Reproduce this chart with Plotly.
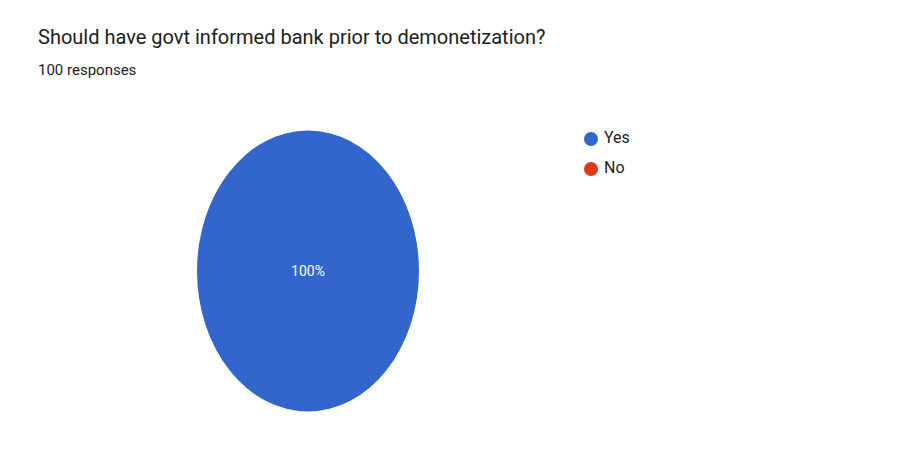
import plotly.graph_objects as go

title = "Should have govt informed bank prior to demonetization?"
subtitle = "100 responses"
categories = ["Yes", "No"]
values = [100, 0]
colors = ["#3366cc", "#dc3912"]

W, H = 905, 460

fig = go.Figure()

# pie (circle of diameter 222 centered at (308, 271), later stretched vertically)
cx, cy, d = 308, 271, 222
fig.add_trace(go.Pie(
    labels=categories, values=values, sort=False, direction="clockwise",
    marker=dict(colors=colors, line=dict(width=0)),
    texttemplate=["%{percent:.0%}" if v > 0 else "" for v in values],
    textposition="inside", insidetextorientation="horizontal",
    textfont=dict(family="Roboto", size=14, color="#ffffff"),
    showlegend=False, hoverinfo="label+percent",
    domain=dict(x=[(cx - d / 2) / W, (cx + d / 2) / W],
                y=[(H - cy - d / 2) / H, (H - cy + d / 2) / H]),
))

# legend drawn as a markers+text trace
fig.add_trace(go.Scatter(
    x=[0] * len(categories), y=list(range(len(categories))),
    mode="markers+text", text=["\u2009" + c for c in categories], textposition="middle right",
    marker=dict(size=14, color=colors),
    textfont=dict(family="Roboto", size=16, color="#222222"),
    showlegend=False, hoverinfo="skip", cliponaxis=False,
))

fig.update_xaxes(domain=[591 / W, 700 / W], range=[0, 1], visible=False, fixedrange=True)
fig.update_yaxes(domain=[(H - 184) / H, (H - 124) / H], range=[1.5, -0.5], visible=False, fixedrange=True)

fig.add_annotation(text=title, x=36 / W, y=1 - 23 / H, xref="paper", yref="paper",
                   xanchor="left", yanchor="top", showarrow=False,
                   font=dict(family="Roboto", size=20, color="#212121"))
fig.add_annotation(text=subtitle, x=36 / W, y=1 - 59 / H, xref="paper", yref="paper",
                   xanchor="left", yanchor="top", showarrow=False,
                   font=dict(family="Roboto", size=15, color="#212121"))

fig.update_layout(width=W, height=H, margin=dict(l=0, r=0, t=0, b=0),
                  paper_bgcolor="white", plot_bgcolor="white", showlegend=False)

post = """
var k = 281/222;
document.querySelectorAll('.pielayer path.surface').forEach(function(p){
  var b = p.getBBox(); var c = b.y + b.height/2;
  p.setAttribute('transform', 'matrix(1,0,0,' + k + ',0,' + (c*(1-k)) + ')');
});
"""
fig.write_html("out.html", post_script=post, config={"displayModeBar": False})
